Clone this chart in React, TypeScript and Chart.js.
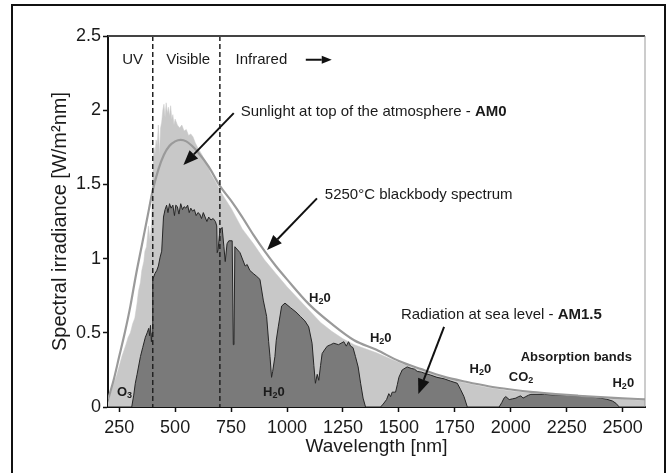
import React, { useEffect, useRef } from "react";
import { Chart, registerables } from "chart.js";

Chart.register(...registerables);

// ---- data (wavelength nm, spectral irradiance W/m²nm) ----
const xTickValues = [250, 500, 750, 1000, 1250, 1500, 1750, 2000, 2250, 2500];

const sunlightAM0: [number, number][] = [
  [200, 0.03], [215, 0.11], [240, 0.22], [262, 0.34], [280, 0.42], [290, 0.47], [300, 0.5], [310, 0.56],
  [320, 0.6], [330, 0.7], [336, 0.78], [345, 0.84], [351, 0.92], [360, 0.98], [365, 1.05], [372, 1.08],
  [381, 1.22], [388, 1.12], [395, 1.25], [400, 1.55], [405, 1.75], [410, 1.7], [415, 1.8], [420, 1.76],
  [425, 1.9], [430, 1.7], [435, 1.88], [440, 1.92], [445, 2.0], [450, 2.04], [455, 1.95], [460, 2.05],
  [465, 1.98], [470, 2.02], [475, 1.96], [480, 2.03], [485, 1.94], [490, 1.97], [495, 1.9], [500, 1.94],
  [510, 1.9], [520, 1.88], [530, 1.9], [540, 1.86], [550, 1.87], [560, 1.83], [570, 1.84], [580, 1.82],
  [590, 1.78], [600, 1.75], [620, 1.7], [640, 1.64], [660, 1.57], [680, 1.52], [700, 1.46], [720, 1.41],
  [750, 1.34], [800, 1.2], [850, 1.1], [900, 0.99], [950, 0.9], [1000, 0.81], [1050, 0.73], [1100, 0.65],
  [1150, 0.57], [1200, 0.51], [1250, 0.46], [1300, 0.42], [1400, 0.365], [1500, 0.3], [1600, 0.245],
  [1700, 0.195], [1800, 0.16], [1900, 0.13], [2000, 0.108], [2100, 0.092], [2200, 0.08], [2300, 0.068],
  [2400, 0.058], [2500, 0.05], [2600, 0.044],
];

const seaLevelAM15: [number, number][] = [
  [200, 0], [306, 0], [315, 0.08], [322, 0.16], [330, 0.22], [345, 0.34], [355, 0.4], [367, 0.47],
  [375, 0.5], [382, 0.53], [386, 0.48], [390, 0.55], [394, 0.44], [397, 0.5], [400, 0.86], [410, 0.9],
  [418, 0.92], [425, 0.95], [433, 1.01], [440, 1.05], [448, 1.28], [455, 1.33], [462, 1.36], [468, 1.31],
  [475, 1.37], [482, 1.34], [490, 1.36], [497, 1.29], [503, 1.36], [510, 1.35], [517, 1.3], [525, 1.37],
  [533, 1.33], [540, 1.35], [548, 1.34], [556, 1.36], [563, 1.31], [570, 1.34], [578, 1.32], [586, 1.33],
  [594, 1.29], [602, 1.31], [610, 1.3], [618, 1.27], [626, 1.31], [634, 1.28], [642, 1.25], [650, 1.28],
  [660, 1.26], [670, 1.27], [680, 1.25], [686, 1.22], [688, 1.04], [692, 1.06], [700, 1.19], [710, 1.21],
  [718, 1.08], [724, 0.98], [732, 1.1], [740, 1.12], [755, 1.12], [760, 0.42], [763, 0.45], [767, 1.08],
  [790, 1.04], [813, 0.95], [822, 0.96], [834, 0.92], [849, 0.9], [865, 0.88], [879, 0.86], [894, 0.72],
  [909, 0.61], [918, 0.44], [924, 0.34], [931, 0.2], [936, 0.24], [946, 0.34], [952, 0.45], [961, 0.54],
  [976, 0.68], [991, 0.7], [1015, 0.67], [1040, 0.64], [1060, 0.61], [1080, 0.58], [1097, 0.54],
  [1112, 0.43], [1120, 0.28], [1127, 0.16], [1135, 0.22], [1142, 0.18], [1150, 0.28], [1157, 0.36],
  [1170, 0.39], [1180, 0.41], [1195, 0.42], [1209, 0.43], [1230, 0.42], [1254, 0.44], [1265, 0.41],
  [1275, 0.44], [1284, 0.41], [1295, 0.4], [1306, 0.34], [1318, 0.27], [1329, 0.16], [1340, 0.06],
  [1351, 0], [1418, 0], [1430, 0.02], [1445, 0.05], [1455, 0.09], [1463, 0.07], [1470, 0.1], [1485, 0.1],
  [1493, 0.15], [1500, 0.2], [1515, 0.25], [1537, 0.27], [1555, 0.26], [1570, 0.255], [1582, 0.24],
  [1600, 0.235], [1620, 0.225], [1642, 0.215], [1670, 0.2], [1702, 0.19], [1730, 0.175], [1761, 0.16],
  [1775, 0.12], [1791, 0.07], [1806, 0], [1948, 0], [1960, 0.03], [1970, 0.06], [1978, 0.07], [1993, 0.05],
  [2008, 0.055], [2023, 0.06], [2035, 0.07], [2045, 0.075], [2055, 0.06], [2067, 0.07], [2080, 0.08],
  [2090, 0.085], [2150, 0.085], [2202, 0.08], [2250, 0.078], [2300, 0.074], [2351, 0.07], [2400, 0.06],
  [2430, 0.052], [2455, 0.04], [2470, 0.025], [2485, 0], [2600, 0],
];

const blackbody5250: [number, number][] = [
  [200, 0.05], [225, 0.18], [250, 0.34], [275, 0.5], [300, 0.68], [325, 0.89], [350, 1.08], [375, 1.27],
  [400, 1.46], [425, 1.6], [450, 1.7], [475, 1.76], [500, 1.79], [525, 1.8], [550, 1.79], [575, 1.76],
  [600, 1.72], [650, 1.62], [700, 1.49], [750, 1.39], [800, 1.28], [850, 1.16], [900, 1.05], [950, 0.95],
  [1000, 0.86], [1100, 0.69], [1200, 0.56], [1300, 0.45], [1400, 0.385], [1500, 0.31], [1600, 0.255],
  [1700, 0.205], [1800, 0.17], [1900, 0.14], [2000, 0.118], [2100, 0.1], [2200, 0.087], [2300, 0.076],
  [2400, 0.066], [2500, 0.058], [2600, 0.052],
];

const bandBoundaries = [400, 700];

const FONT = "'Liberation Sans', Arial, Helvetica, sans-serif";

type Seg = { t: string; bold?: boolean; sub?: boolean };
type Label = { segs: Seg[]; nm: number; v: number; align: "left" | "center"; size: number };

const labels: Label[] = [
  { segs: [{ t: "UV" }], nm: 310, v: 2.34, align: "center", size: 15 },
  { segs: [{ t: "Visible" }], nm: 558, v: 2.34, align: "center", size: 15 },
  { segs: [{ t: "Infrared" }], nm: 770, v: 2.34, align: "left", size: 15 },
  { segs: [{ t: "Sunlight at top of the atmosphere - " }, { t: "AM0", bold: true }], nm: 793, v: 1.99, align: "left", size: 15 },
  { segs: [{ t: "5250°C blackbody spectrum" }], nm: 1169, v: 1.43, align: "left", size: 15 },
  { segs: [{ t: "Radiation at sea level - " }, { t: "AM1.5", bold: true }], nm: 1509, v: 0.62, align: "left", size: 15 },
  { segs: [{ t: "Absorption bands", bold: true }], nm: 2293, v: 0.337, align: "center", size: 13 },
  { segs: [{ t: "H", bold: true }, { t: "2", bold: true, sub: true }, { t: "0", bold: true }], nm: 1147, v: 0.735, align: "center", size: 13 },
  { segs: [{ t: "H", bold: true }, { t: "2", bold: true, sub: true }, { t: "0", bold: true }], nm: 941, v: 0.1, align: "center", size: 13 },
  { segs: [{ t: "H", bold: true }, { t: "2", bold: true, sub: true }, { t: "0", bold: true }], nm: 1419, v: 0.465, align: "center", size: 13 },
  { segs: [{ t: "H", bold: true }, { t: "2", bold: true, sub: true }, { t: "0", bold: true }], nm: 1864, v: 0.256, align: "center", size: 13 },
  { segs: [{ t: "H", bold: true }, { t: "2", bold: true, sub: true }, { t: "0", bold: true }], nm: 2503, v: 0.16, align: "center", size: 13 },
  { segs: [{ t: "CO", bold: true }, { t: "2", bold: true, sub: true }], nm: 2046, v: 0.2, align: "center", size: 13 },
  { segs: [{ t: "O", bold: true }, { t: "3", bold: true, sub: true }], nm: 274, v: 0.096, align: "center", size: 13 },
];

type Arrow = { from: [number, number]; to: [number, number]; head: number; width: number };
const arrows: Arrow[] = [
  { from: [1084, 2.34], to: [1200, 2.34], head: 10, width: 8 },
  { from: [762, 1.98], to: [537, 1.63], head: 15, width: 12 },
  { from: [1134, 1.406], to: [911, 1.058], head: 15, width: 12 },
  { from: [1702, 0.54], to: [1587, 0.088], head: 15, width: 12 },
];

const toPoints = (arr: [number, number][]) => arr.map(([x, y]) => ({ x, y }));

const overlayPlugin = {
  id: "overlay",
  afterDatasetsDraw(chart: any) {
    const { ctx, chartArea: ca, scales } = chart;
    const x = scales.x;
    const y = scales.y;
    ctx.save();

    // dashed band boundaries
    ctx.strokeStyle = "#222";
    ctx.lineWidth = 1.5;
    ctx.setLineDash([5, 3]);
    for (const nm of bandBoundaries) {
      const px = x.getPixelForValue(nm);
      ctx.beginPath();
      ctx.moveTo(px, ca.top);
      ctx.lineTo(px, ca.bottom);
      ctx.stroke();
    }
    ctx.setLineDash([]);

    // frame top / right
    ctx.strokeStyle = "#444";
    ctx.lineWidth = 2;
    ctx.beginPath();
    ctx.moveTo(ca.left, ca.top);
    ctx.lineTo(ca.right, ca.top);
    ctx.stroke();
    ctx.strokeStyle = "#999";
    ctx.lineWidth = 1;
    ctx.beginPath();
    ctx.moveTo(ca.right, ca.top);
    ctx.lineTo(ca.right, ca.bottom);
    ctx.stroke();

    // labels
    ctx.fillStyle = "#1a1a1a";
    ctx.textBaseline = "middle";
    ctx.textAlign = "left";
    for (const lb of labels) {
      const fontFor = (s: Seg) => `${s.bold ? "bold " : ""}${s.sub ? Math.round(lb.size * 0.7) : lb.size}px ${FONT}`;
      let total = 0;
      const widths = lb.segs.map((s) => {
        ctx.font = fontFor(s);
        const w = ctx.measureText(s.t).width;
        total += w;
        return w;
      });
      let px = x.getPixelForValue(lb.nm);
      const py = y.getPixelForValue(lb.v);
      if (lb.align === "center") px -= total / 2;
      lb.segs.forEach((s, i) => {
        ctx.font = fontFor(s);
        ctx.fillText(s.t, px, s.sub ? py + lb.size * 0.25 : py);
        px += widths[i];
      });
    }

    // arrows
    ctx.strokeStyle = "#111";
    ctx.fillStyle = "#111";
    for (const a of arrows) {
      const x1 = x.getPixelForValue(a.from[0]);
      const y1 = y.getPixelForValue(a.from[1]);
      const x2 = x.getPixelForValue(a.to[0]);
      const y2 = y.getPixelForValue(a.to[1]);
      const ang = Math.atan2(y2 - y1, x2 - x1);
      const bx = x2 - a.head * Math.cos(ang);
      const by = y2 - a.head * Math.sin(ang);
      ctx.lineWidth = 2;
      ctx.beginPath();
      ctx.moveTo(x1, y1);
      ctx.lineTo(bx, by);
      ctx.stroke();
      const nx = -Math.sin(ang) * (a.width / 2);
      const ny = Math.cos(ang) * (a.width / 2);
      ctx.beginPath();
      ctx.moveTo(x2, y2);
      ctx.lineTo(bx + nx, by + ny);
      ctx.lineTo(bx - nx, by - ny);
      ctx.closePath();
      ctx.fill();
    }
    ctx.restore();
  },
};

export default function App() {
  const canvasRef = useRef<HTMLCanvasElement | null>(null);

  useEffect(() => {
    if (!canvasRef.current) return;
    const chart = new Chart(canvasRef.current, {
      type: "line",
      data: {
        datasets: [
          {
            label: "5250°C blackbody spectrum",
            data: toPoints(blackbody5250),
            borderColor: "#9a9a9a",
            borderWidth: 2.2,
            pointRadius: 0,
            fill: false,
            cubicInterpolationMode: "monotone",
          },
          {
            label: "Radiation at sea level - AM1.5",
            data: toPoints(seaLevelAM15),
            borderColor: "#262626",
            borderWidth: 1,
            backgroundColor: "#7a7a7a",
            pointRadius: 0,
            fill: "origin",
            tension: 0,
          },
          {
            label: "Sunlight at top of the atmosphere - AM0",
            data: toPoints(sunlightAM0),
            borderColor: "#c8c8c8",
            borderWidth: 0.5,
            backgroundColor: "#c8c8c8",
            pointRadius: 0,
            fill: "origin",
            tension: 0,
          },
        ],
      },
      options: {
        responsive: false,
        maintainAspectRatio: false,
        animation: false,
        events: [],
        layout: { padding: { top: 36, right: 22, left: 0, bottom: 0 } },
        plugins: {
          legend: { display: false },
          tooltip: { enabled: false },
          title: { display: false },
        },
        scales: {
          x: {
            type: "linear",
            min: 200,
            max: 2600,
            afterBuildTicks: (scale: any) => {
              scale.ticks = xTickValues.map((v) => ({ value: v }));
            },
            afterFit: (scale: any) => {
              scale.height = 66;
            },
            grid: {
              display: true,
              drawOnChartArea: false,
              drawTicks: true,
              tickLength: 5,
              tickWidth: 1.5,
              tickColor: "#111",
            },
            border: { display: true, color: "#111", width: 2 },
            ticks: {
              color: "#1a1a1a",
              font: { family: FONT, size: 18 },
              padding: 5,
              maxRotation: 0,
              autoSkip: false,
              callback: (v: any) => String(v),
            },
            title: {
              display: true,
              text: "Wavelength [nm]",
              color: "#1a1a1a",
              font: { family: FONT, size: 19 },
              padding: { top: 0, bottom: 15 },
            },
          },
          y: {
            type: "linear",
            min: 0,
            max: 2.5,
            afterFit: (scale: any) => {
              scale.width = 108;
            },
            grid: {
              display: true,
              drawOnChartArea: false,
              drawTicks: true,
              tickLength: 5,
              tickWidth: 1.5,
              tickColor: "#111",
            },
            border: { display: true, color: "#111", width: 2 },
            ticks: {
              stepSize: 0.5,
              color: "#1a1a1a",
              font: { family: FONT, size: 18 },
              padding: 2,
              callback: (v: any) => String(Math.round(Number(v) * 10) / 10),
            },
            title: {
              display: true,
              text: "Spectral irradiance [W/m²nm]",
              color: "#1a1a1a",
              font: { family: FONT, size: 20 },
              padding: { top: 48, bottom: 0 },
            },
          },
        },
      },
      plugins: [overlayPlugin],
    });
    return () => chart.destroy();
  }, []);

  return (
    <div style={{ position: "fixed", left: 0, top: 0, width: 667, height: 473, background: "#fff", overflow: "hidden" }}>
      <canvas ref={canvasRef} width={667} height={473} style={{ position: "absolute", left: 0, top: 0 }} />
      <div
        style={{
          position: "absolute",
          left: 11,
          top: 4,
          width: 651,
          height: 520,
          border: "2px solid #111",
          pointerEvents: "none",
        }}
      />
    </div>
  );
}
